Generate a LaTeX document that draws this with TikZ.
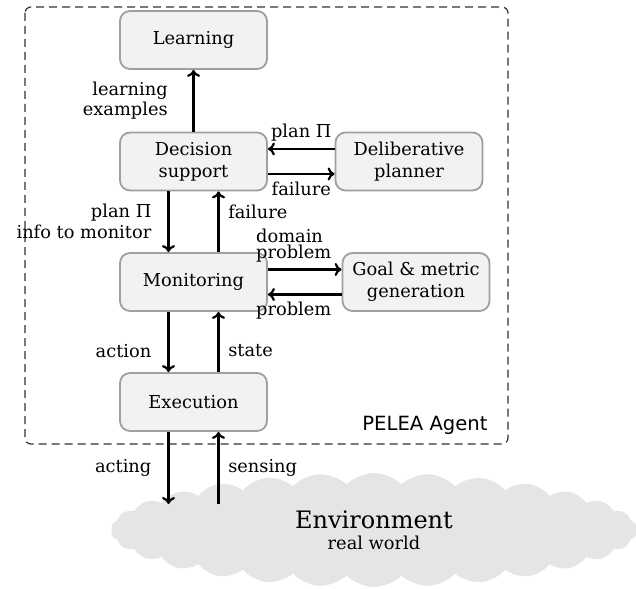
\documentclass[tikz,border=0pt]{standalone}
\usepackage{fontspec}
\setmainfont{DejaVu Serif}
\newfontfamily\agentfont{DejaVu Sans}
\usetikzlibrary{shapes.symbols, arrows.meta}

\begin{document}
\begin{tikzpicture}[x=0.5pt, y=-0.5pt,
    font=\fontsize{8.9}{10.5}\selectfont,
    block/.style={draw=gray!75, fill=gray!10, line width=0.9pt, rounded corners=5pt,
      minimum width=73.5pt, minimum height=29pt, align=center,
      font=\fontsize{8.9}{11}\selectfont},
    flow/.style={-{To[length=3.5pt, width=6.5pt]}, line width=1.1pt},
    tight/.style={font=\fontsize{8.9}{8}\selectfont}]
  \useasboundingbox (0, 0) rectangle (636, 588);

  % Environment
  \node [cloud, cloud puffs=30, cloud puff arc=90, cloud ignores aspect, fill=gray!20,
    minimum width=263pt, minimum height=57pt, align=center,
    font=\fontsize{8.9}{10.5}\selectfont] (env) at (374, 530)
    {{\fontsize{12}{12}\selectfont Environment}\\real world};

  % Agent border
  \draw [dash pattern=on 4pt off 2.5pt, rounded corners=3pt, line width=0.6pt, black!80] (25, 7) rectangle (508, 444);
  \node [font=\agentfont\fontsize{9.8}{11}\selectfont] (agent) at (425, 425) {PELEA Agent};

  % Components
  \node [block] (learn) at (193.5, 40) {Learning};
  \node [block] (dec) at (193.5, 161.5) {Decision\\support};
  \node [block] (mon) at (193.5, 282) {Monitoring};
  \node [block] (exe) at (193.5, 402) {Execution};
  \node [block] (plan) at (409, 161.5) {Deliberative\\planner};
  \node [block] (goal) at (416, 282) {Goal \& metric\\generation};

  % Decision support and learning
  \draw [flow] (dec) -- (learn) node [midway, left=9pt, tight, align=right] {learning\\examples};

  % Decision support and planner
  \draw [flow] ([yshift=6.25pt]plan.west) -- ([yshift=6.25pt]dec.east) node [midway, above] {plan Π};
  \draw [flow] ([yshift=-6.25pt]dec.east) -- ([yshift=-6.25pt]plan.west) node [midway, below] {failure};

  % Decision support and monitoring
  \draw [flow] ([xshift=-12.5pt]dec.south) -- ([xshift=-12.5pt]mon.north)
    node [midway, left=4.7pt, align=right] {plan Π\\info to monitor};
  \draw [flow] ([xshift=12.5pt]mon.north) -- ([xshift=12.5pt]dec.south) node [pos=0.66, right=1pt] {failure};

  % Monitoring and goal generation
  \draw [flow] ([yshift=6.25pt]mon.east) -- ([yshift=6.25pt]goal.west)
    node [midway, above, xshift=-5.5pt, tight, align=left] {domain\\problem};
  \draw [flow] ([yshift=-6.25pt]goal.west) -- ([yshift=-6.25pt]mon.east) node [midway, below, xshift=-5.5pt] {problem};

  % Monitoring and execution
  \draw [flow] ([xshift=-12.5pt]mon.south) -- ([xshift=-12.5pt]exe.north) node [pos=0.65, left=4.7pt] {action};
  \draw [flow] ([xshift=12.5pt]exe.north) -- ([xshift=12.5pt]mon.south) node [pos=0.35, right=1pt] {state};

  % Execution and environment
  \coordinate (act) at (168.5, 504);
  \coordinate (sense) at (218.5, 504);
  \draw [flow] ([xshift=-12.5pt]exe.south) -- (act) node [midway, left=4.7pt] {acting};
  \draw [flow] (sense) -- ([xshift=12.5pt]exe.south) node [midway, right=1pt] {sensing};
\end{tikzpicture}
\end{document}
